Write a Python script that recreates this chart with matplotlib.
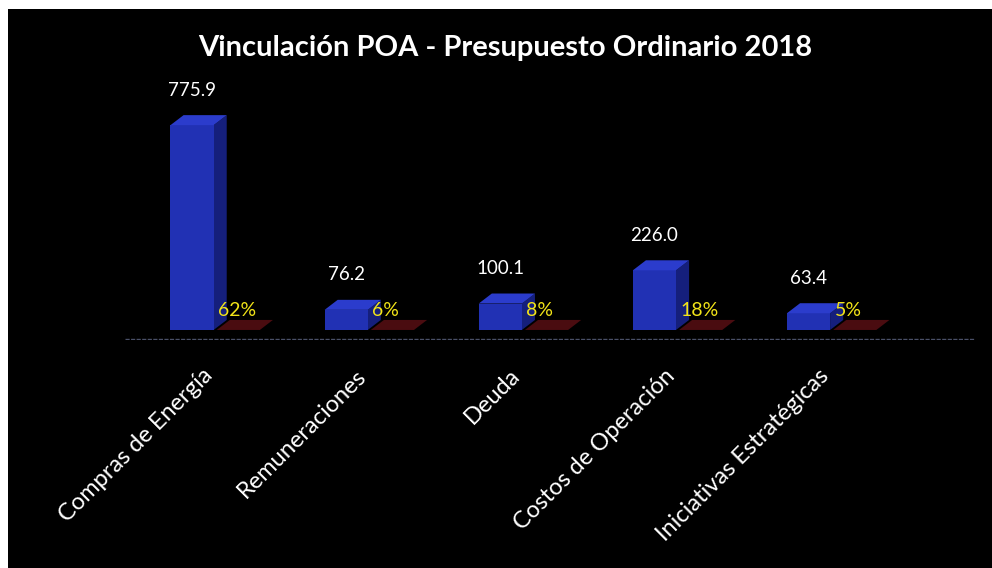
import matplotlib
matplotlib.use("Agg")
import matplotlib.pyplot as plt
from matplotlib.patches import Polygon, Rectangle

categories = ["Compras de Energía", "Remuneraciones", "Deuda",
              "Costos de Operación", "Iniciativas Estratégicas"]
values = [775.9, 76.2, 100.1, 226.0, 63.4]
shares = [62, 6, 8, 18, 5]
title = "Vinculación POA - Presupuesto Ordinario 2018"

plt.rcParams["font.family"] = ["Lato", "DejaVu Sans"]

fig = plt.figure(figsize=(9.92, 5.68), dpi=100, facecolor="white")
# black slide area (scan leaves a white edge top/left)
fig.patches.append(Rectangle((8 / 992, 0), 1, 1 - 9 / 568, transform=fig.transFigure,
                             facecolor="black", edgecolor="none", zorder=-5))

ax = fig.add_axes([125 / 992, (568 - 340) / 568, 850 / 992, 260 / 568])
ax.set_facecolor("none")

width = 0.28
dx, dy = 0.085, 38  # 3D depth offsets in data units
front, side, topc = "#2131b4", "#151f7c", "#2b3ccc"
red_top = "#4a0c10"

for i, (v, s) in enumerate(zip(values, shares)):
    x0 = i - width / 2
    ax.bar(i, v, width=width, color=front, edgecolor="none", zorder=3)
    ax.add_patch(Polygon([(x0 + width, 0), (x0 + width + dx, dy),
                          (x0 + width + dx, v + dy), (x0 + width, v)],
                         closed=True, facecolor=side, edgecolor="none", zorder=2))
    ax.add_patch(Polygon([(x0, v), (x0 + width, v), (x0 + width + dx, v + dy),
                          (x0 + dx, v + dy)],
                         closed=True, facecolor=topc, edgecolor="none", zorder=3))
    # second series (percent share) lies almost flat on the floor
    rx = x0 + width + 0.02
    ax.add_patch(Polygon([(rx, 0), (rx + width, 0), (rx + width + dx, dy),
                          (rx + dx, dy)],
                         closed=True, facecolor=red_top, edgecolor="none", zorder=1))
    ax.text(i, v + dy + 62, f"{v:.1f}", color="white", fontsize=13.5,
            ha="center", va="bottom")
    ax.text(x0 + width + 0.03, 75, f"{s}%", color="#f2e418", fontsize=14,
            ha="left", va="center", zorder=4)

ax.axhline(-36, xmin=0, xmax=1, color="#4a5068", lw=1, ls=(0, (3, 1)))
ax.set_xlim(-0.435, 5.08)
ax.set_ylim(-38, 947)
ax.set_xticks([i + 0.06 for i in range(len(categories))])
ax.set_xticklabels(categories, rotation=45, ha="right", va="top",
                   rotation_mode="anchor", color="white", fontsize=17,
                   fontweight="normal")
ax.tick_params(axis="x", length=0, pad=18)
ax.set_yticks([])
for sp in ax.spines.values():
    sp.set_visible(False)

fig.text(505 / 992, 1 - 48 / 568, title, color="white", fontsize=21,
         fontweight="bold", ha="center", va="center")

fig.savefig("out.png", dpi=100, facecolor=fig.get_facecolor())
